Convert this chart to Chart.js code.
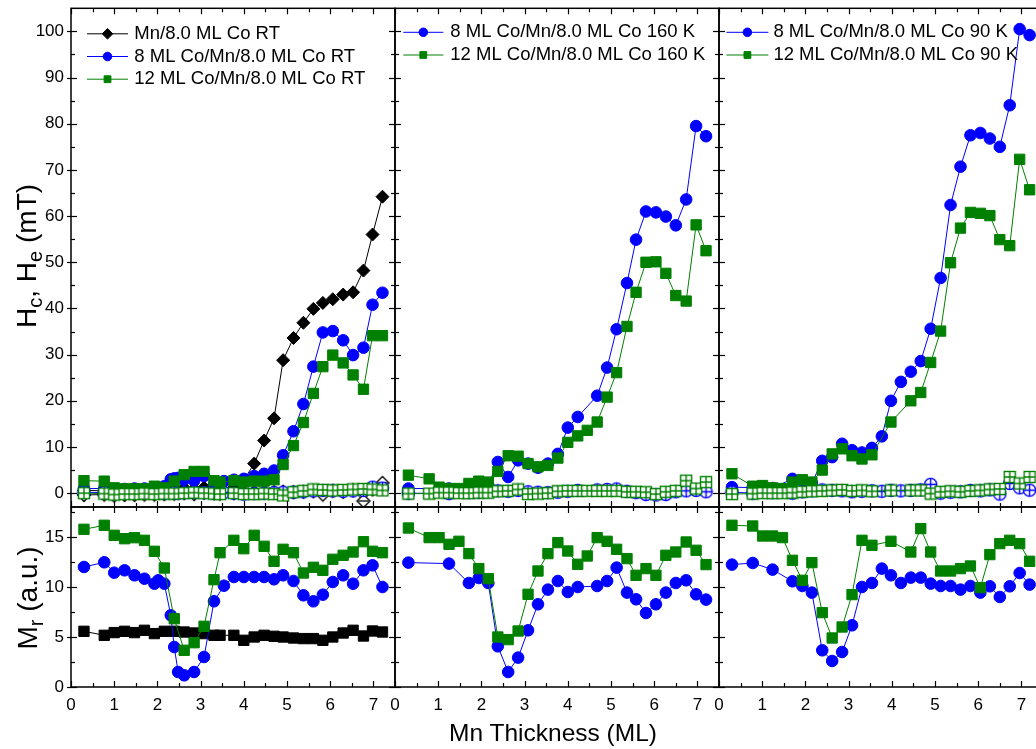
<!DOCTYPE html>
<html>
<head>
<meta charset="utf-8">
<title>Coercivity, exchange bias and remanence vs Mn thickness</title>
<script src="https://cdn.jsdelivr.net/npm/chart.js@4.4.1/dist/chart.umd.min.js"></script>
<style>
  html, body { margin: 0; padding: 0; background: #fff; overflow: hidden; }
  #fig { position: relative; width: 1060px; height: 749px; font-family: "Liberation Sans", Arial, Helvetica, sans-serif; color: #000; }
  #fig canvas { position: absolute; }
  .vtitle { position: absolute; transform: translate(-50%, -50%) rotate(-90deg); white-space: nowrap; font-size: 28px; line-height: 1; }
  .vtitle sub { font-size: 0.72em; vertical-align: -0.32em; line-height: 0; }
  .xtitle { position: absolute; transform: translate(-50%, -50%); white-space: nowrap; font-size: 24.5px; line-height: 1; }
</style>
</head>
<body>
<div id="fig">
  <div class="vtitle" style="left:27px; top:256px;">H<sub>c</sub>, H<sub>e</sub> (mT)</div>
  <div class="vtitle" style="left:28px; top:598px;">M<sub>r</sub> (a.u.)</div>
  <div class="xtitle" style="left:553px; top:733px;">Mn Thickness (ML)</div>
</div>
<script>
// ---------- axis ticks ----------
const xMajorTicks = [0, 1, 2, 3, 4, 5, 6, 7];
const xMinorTicks = [0.5, 1.5, 2.5, 3.5, 4.5, 5.5, 6.5];
const hcMajorTicks = [0, 10, 20, 30, 40, 50, 60, 70, 80, 90, 100];
const hcMinorTicks = [5, 15, 25, 35, 45, 55, 65, 75, 85, 95];
const mrMajorTicks = [0, 5, 10, 15];
const mrMinorTicks = [2.5, 7.5, 12.5, 17.5];

// ---------- room temperature: Mn/8.0 ML Co ----------
const rtMnX  = [0.30, 0.77, 1.00, 1.24, 1.47, 1.70, 1.93, 2.16, 2.39, 2.62, 2.85, 3.08, 3.31, 3.45, 3.77, 4.00, 4.24, 4.47, 4.70, 4.91, 5.15, 5.38, 5.61, 5.83, 6.06, 6.30, 6.53, 6.77, 6.98, 7.21];
const rtMnHc = [0.6, 0.5, 0.6, 0.5, 0.6, 0.7, 0.8, 0.9, 1.0, 1.1, 1.0, 1.2, 1.6, 1.3, 1.2, 2.8, 6.4, 11.4, 16.2, 28.8, 33.6, 36.9, 39.9, 41.2, 42.0, 43.0, 43.5, 48.2, 56.0, 64.2];
const rtMnHe = [-0.4, -0.3, -0.5, -0.4, -0.4, -0.3, -0.3, -0.2, -0.1, 0.0, -0.2, 0.1, 0.0, -0.1, 0.0, 0.1, 0.2, 0.3, 0.2, 0.3, 0.2, 0.3, 0.4, -0.3, 0.5, 0.3, 0.6, -1.7, 0.8, 2.2];
const rtMnMrX = [0.30, 0.77, 1.00, 1.24, 1.47, 1.70, 1.93, 2.16, 2.39, 2.62, 2.85, 3.08, 3.31, 3.45, 3.77, 4.00, 4.24, 4.47, 4.70, 4.91, 5.15, 5.38, 5.61, 5.83, 6.06, 6.30, 6.53, 6.77, 6.98, 7.21];
const rtMnMr  = [5.57, 5.17, 5.44, 5.57, 5.44, 5.67, 5.34, 5.57, 5.57, 5.5, 5.4, 5.34, 5.17, 5.17, 5.17, 4.67, 5.0, 5.17, 5.07, 5.0, 4.9, 4.84, 4.84, 4.67, 5.0, 5.4, 5.67, 5.1, 5.6, 5.5];

// ---------- room temperature: 8 ML Co/Mn/8.0 ML Co ----------
const rtCo8X  = [0.30, 0.77, 1.00, 1.24, 1.47, 1.70, 1.93, 2.02, 2.16, 2.31, 2.39, 2.48, 2.62, 2.85, 3.08, 3.31, 3.54, 3.77, 4.00, 4.24, 4.47, 4.70, 4.91, 5.15, 5.38, 5.61, 5.83, 6.06, 6.30, 6.53, 6.77, 6.98, 7.21];
const rtCo8Hc = [1.0, 1.0, 0.9, 0.9, 1.0, 1.0, 1.2, 1.2, 1.5, 3.0, 3.2, 3.3, 2.9, 2.7, 3.7, 1.9, 2.6, 2.9, 3.1, 3.7, 4.2, 4.9, 8.2, 13.4, 19.3, 27.4, 34.8, 35.1, 33.1, 29.9, 31.5, 40.8, 43.4];
const rtCo8He = [0.2, 0.1, 0.0, 0.0, 0.1, 0.1, 0.0, 0.1, 0.0, 0.1, 0.1, 0.0, 0.1, 0.2, 0.1, 0.0, 0.1, 0.0, -0.2, -0.1, 0.0, 0.1, 0.2, 0.2, 0.3, 0.5, 0.6, 0.5, 0.4, 0.5, 0.6, 1.3, 1.1];
const rtCo8Mr = [12.0, 12.47, 11.43, 11.67, 11.17, 10.83, 10.33, 10.67, 10.33, 7.17, 4.0, 1.5, 1.17, 1.5, 3.0, 8.57, 10.13, 11.0, 11.0, 11.0, 11.0, 10.77, 11.17, 10.6, 9.17, 8.57, 9.23, 10.5, 11.17, 10.33, 11.67, 12.17, 10.0];

// ---------- room temperature: 12 ML Co/Mn/8.0 ML Co ----------
const rtCo12X  = [0.30, 0.77, 1.00, 1.24, 1.47, 1.70, 1.93, 2.16, 2.39, 2.62, 2.85, 3.08, 3.31, 3.45, 3.77, 4.00, 4.24, 4.47, 4.70, 4.91, 5.15, 5.38, 5.61, 5.83, 6.06, 6.30, 6.53, 6.77, 6.98, 7.21];
const rtCo12Hc = [2.7, 2.6, 1.15, 0.93, 0.93, 0.93, 1.5, 1.15, 2.6, 4.0, 4.7, 4.7, 2.7, 2.4, 2.7, 2.4, 2.6, 2.6, 2.9, 6.2, 10.3, 15.3, 21.6, 27.4, 29.9, 28.2, 25.6, 22.5, 34.1, 34.1];
const rtCo12He = [0.0, -0.1, -0.3, -0.2, -0.2, -0.1, -0.2, -0.1, -0.1, 0.0, 0.1, 0.0, -0.1, -0.2, 0.0, -0.2, -0.2, -0.1, -0.2, -0.5, 0.2, 0.5, 0.8, 0.7, 0.6, 0.7, 0.8, 0.9, 0.8, 0.6];
const rtCo12Mr = [15.77, 16.17, 15.17, 14.83, 14.93, 14.67, 13.57, 11.9, 6.83, 3.67, 4.43, 6.07, 10.73, 13.43, 14.67, 13.83, 15.17, 14.07, 12.57, 13.77, 13.43, 11.4, 11.97, 11.67, 12.77, 13.17, 13.5, 14.53, 13.57, 13.43];

// ---------- 160 K: 8 ML Co/Mn/8.0 ML Co ----------
const k160Co8X  = [0.31, 1.25, 1.71, 1.94, 2.16, 2.38, 2.62, 2.85, 3.08, 3.31, 3.54, 3.77, 4.00, 4.23, 4.68, 4.91, 5.13, 5.37, 5.58, 5.81, 6.04, 6.27, 6.50, 6.74, 6.97, 7.20];
const k160Co8Hc = [1.0, 1.0, 1.6, 1.8, 1.65, 6.75, 3.5, 7.1, 6.4, 5.5, 6.4, 8.5, 14.2, 16.5, 21.1, 27.2, 35.5, 45.5, 54.9, 61.0, 60.8, 59.9, 58.0, 63.6, 79.5, 77.3];
const k160Co8He = [0.0, -0.1, 0.1, 0.2, 0.3, 0.5, 0.4, 0.6, 0.3, 0.2, 0.1, 0.2, 0.4, 0.6, 0.7, 0.8, 0.9, 0.4, 0.1, -0.3, -0.4, -0.3, 0.3, 0.5, 0.6, 0.3];
const k160Co8Mr = [12.44, 12.34, 10.4, 10.9, 10.4, 4.07, 1.5, 2.94, 5.67, 8.27, 9.74, 10.6, 9.5, 10.0, 10.1, 10.6, 11.94, 9.44, 8.77, 7.4, 8.27, 9.44, 10.4, 10.67, 9.27, 8.74];

// ---------- 160 K: 12 ML Co/Mn/8.0 ML Co ----------
const k160Co12X  = [0.31, 0.79, 1.02, 1.25, 1.48, 1.71, 1.94, 2.16, 2.38, 2.62, 2.85, 3.08, 3.31, 3.54, 3.77, 4.00, 4.23, 4.45, 4.68, 4.91, 5.13, 5.37, 5.58, 5.81, 6.04, 6.27, 6.50, 6.74, 6.97, 7.20];
const k160Co12Hc = [3.9, 3.1, 1.3, 1.0, 1.0, 2.1, 2.6, 2.4, 4.7, 8.1, 8.0, 6.4, 5.7, 6.0, 7.6, 11.0, 12.4, 13.6, 15.4, 20.8, 26.1, 36.1, 43.5, 50.0, 50.1, 47.6, 42.8, 41.6, 58.1, 52.5];
const k160Co12He = [-0.1, -0.1, 0.1, 0.1, 0.0, 0.0, 0.1, 0.1, 0.4, 0.5, 0.8, -0.2, -0.1, 0.0, 0.4, 0.5, 0.5, 0.5, 0.5, 0.5, 0.5, 0.3, 0.3, 0.2, -0.2, 0.3, 0.5, 2.7, 1.0, 2.4];
const k160Co12Mr = [15.9, 14.94, 14.94, 14.27, 14.57, 13.34, 11.84, 10.84, 5.0, 4.74, 5.6, 9.27, 11.6, 13.34, 14.44, 13.6, 12.27, 13.1, 14.94, 14.57, 13.77, 12.84, 11.17, 11.84, 11.17, 13.17, 13.5, 14.5, 13.67, 12.24];

// ---------- 90 K: 8 ML Co/Mn/8.0 ML Co ----------
const k90Co8X  = [0.30, 0.78, 1.24, 1.70, 1.93, 2.15, 2.39, 2.62, 2.85, 3.08, 3.31, 3.54, 3.77, 3.98, 4.21, 4.44, 4.67, 4.90, 5.13, 5.36, 5.59, 5.82, 6.05, 6.27, 6.50, 6.73, 6.96, 7.19];
const k90Co8Hc = [1.3, 1.2, 1.1, 3.1, 2.7, 2.2, 7.0, 7.8, 10.7, 9.3, 8.8, 9.8, 12.3, 20.0, 24.1, 26.3, 28.6, 35.6, 46.6, 62.4, 70.7, 77.5, 78.0, 76.8, 75.0, 84.0, 100.5, 99.2];
const k90Co8He = [0.2, 0.0, 0.1, 0.0, 0.3, 0.5, 0.7, 0.6, 0.5, 0.3, 0.4, 0.5, 0.4, 0.6, 0.5, 0.6, 0.7, 1.9, 0.0, 0.2, 0.3, 0.6, 0.5, 0.7, -0.2, 2.1, 1.15, 0.65];
const k90Co8Mr = [12.24, 12.4, 11.74, 10.57, 10.1, 9.44, 3.67, 2.6, 3.5, 6.17, 10.0, 10.4, 11.84, 11.17, 10.4, 10.94, 10.94, 10.34, 10.1, 10.1, 9.74, 10.1, 9.44, 10.07, 9.0, 10.07, 11.4, 10.24];

// ---------- 90 K: 12 ML Co/Mn/8.0 ML Co ----------
const k90Co12X  = [0.30, 0.78, 1.01, 1.24, 1.47, 1.70, 1.93, 2.15, 2.39, 2.62, 2.85, 3.08, 3.31, 3.54, 3.98, 4.44, 4.67, 4.90, 5.13, 5.36, 5.59, 5.82, 6.05, 6.27, 6.50, 6.73, 6.96, 7.19];
const k90Co12Hc = [4.2, 1.5, 1.65, 1.15, 1.0, 2.4, 2.9, 2.4, 5.0, 8.5, 9.6, 8.1, 7.4, 8.3, 15.4, 20.0, 21.8, 28.3, 35.1, 49.9, 57.4, 60.8, 60.6, 60.1, 54.9, 53.6, 72.3, 65.7];
const k90Co12He = [-0.2, -0.1, 0.0, 0.0, 0.0, 0.1, 0.3, 0.4, 0.5, 0.6, 0.7, 0.5, 0.6, 0.4, 0.6, 0.6, 0.6, -0.1, 0.3, 0.4, 0.3, 0.5, 0.6, 0.8, 0.9, 3.5, 2.1, 3.5];
const k90Co12Mr = [16.17, 16.1, 15.1, 15.1, 14.94, 12.67, 10.67, 12.44, 7.44, 4.9, 6.0, 9.24, 14.67, 14.17, 14.57, 13.5, 15.84, 13.5, 11.6, 11.6, 11.84, 12.1, 9.94, 13.24, 14.34, 14.67, 14.34, 12.57];

// ---------- styling ----------
const FONT = '"Liberation Sans", Arial, Helvetica, sans-serif';
const BLUE = '#0000ff', GREEN = '#008000', BLACK = '#000000';

// open markers with a cross inside (exchange-bias data)
function crossedCircle(color) {
  const c = document.createElement('canvas'); c.width = c.height = 15;
  const g = c.getContext('2d');
  g.fillStyle = '#fff'; g.strokeStyle = color; g.lineWidth = 1.4;
  g.beginPath(); g.arc(7.5, 7.5, 6.1, 0, Math.PI * 2); g.fill(); g.stroke();
  g.beginPath(); g.moveTo(7.5, 1.4); g.lineTo(7.5, 13.6); g.moveTo(1.4, 7.5); g.lineTo(13.6, 7.5); g.stroke();
  return c;
}
function crossedSquare(color) {
  const c = document.createElement('canvas'); c.width = c.height = 14;
  const g = c.getContext('2d');
  g.fillStyle = '#fff'; g.strokeStyle = color; g.lineWidth = 1.4;
  g.fillRect(1.5, 1.5, 11, 11); g.strokeRect(1.5, 1.5, 11, 11);
  g.beginPath(); g.moveTo(7, 1.5); g.lineTo(7, 12.5); g.moveTo(1.5, 7); g.lineTo(12.5, 7); g.stroke();
  return c;
}
function openDiamond(color) {
  const c = document.createElement('canvas'); c.width = c.height = 16;
  const g = c.getContext('2d');
  g.fillStyle = '#fff'; g.strokeStyle = color; g.lineWidth = 1.3;
  g.beginPath(); g.moveTo(8, 1.5); g.lineTo(14.5, 8); g.lineTo(8, 14.5); g.lineTo(1.5, 8); g.closePath(); g.fill(); g.stroke();
  g.beginPath(); g.moveTo(3, 8); g.lineTo(13, 8); g.stroke();
  return c;
}
const OPEN_BLUE = crossedCircle(BLUE);
const OPEN_GREEN = crossedSquare(GREEN);
const OPEN_BLACK = openDiamond(BLACK);

const pts = (xs, ys) => xs.map((x, i) => ({ x, y: ys[i] }));

const MARK = {
  black: { pointStyle: 'rectRot', radius: 6.5, legendRadius: 5.3, color: BLACK, open: OPEN_BLACK },
  blue:  { pointStyle: 'circle',  radius: 5.8, legendRadius: 4.3, color: BLUE,  open: OPEN_BLUE },
  green: { pointStyle: 'rect',    radius: 7.3, legendRadius: 4.8, color: GREEN, open: OPEN_GREEN }
};

function filledSet(label, kind, xs, ys, order) {
  const m = MARK[kind];
  return {
    label, data: pts(xs, ys), showLine: true, order,
    borderColor: m.color, backgroundColor: m.color, borderWidth: 1,
    pointStyle: m.pointStyle, pointRadius: m.radius, pointBorderWidth: 1,
    pointBackgroundColor: m.color, pointBorderColor: m.color,
    legendRadius: m.legendRadius, tension: 0
  };
}
function openSet(label, kind, xs, ys, order) {
  const m = MARK[kind];
  return {
    label, data: pts(xs, ys), showLine: true, order,
    borderColor: m.color, backgroundColor: '#fff', borderWidth: 1,
    pointStyle: m.open, pointRadius: 6, tension: 0
  };
}

// ---------- frame, mirrored tick marks and in-plot legend ----------
const framePlugin = {
  id: 'frame',
  afterDraw(chart, args, o) {
    const { ctx, chartArea: { left, right, top, bottom }, scales: { x, y } } = chart;
    const MAJ = 6, MIN = 4;
    ctx.save();
    ctx.strokeStyle = '#000';
    ctx.lineWidth = 1.2;
    const seg = (x1, y1, x2, y2) => { ctx.beginPath(); ctx.moveTo(x1, y1); ctx.lineTo(x2, y2); ctx.stroke(); };
    o.xMajor.forEach(v => { const p = Math.round(x.getPixelForValue(v)) + 0.5; seg(p, bottom, p, bottom - MAJ); seg(p, top, p, top + MAJ); });
    o.xMinor.forEach(v => { const p = Math.round(x.getPixelForValue(v)) + 0.5; seg(p, bottom, p, bottom - MIN); seg(p, top, p, top + MIN); });
    o.yMajor.forEach(v => { const p = Math.round(y.getPixelForValue(v)) + 0.5; seg(left, p, left + MAJ, p); seg(right, p, right - MAJ, p); });
    o.yMinor.forEach(v => { const p = Math.round(y.getPixelForValue(v)) + 0.5; seg(left, p, left + MIN, p); seg(right, p, right - MIN, p); });
    if (o.outerLeft) {
      o.yMajor.forEach(v => { const p = Math.round(y.getPixelForValue(v)) + 0.5; seg(left, p, left - 4, p); });
    }
    ctx.lineWidth = 1.5;
    ctx.strokeRect(left, top, right - left, bottom - top);
    ctx.restore();
  }
};

const legendPlugin = {
  id: 'panelLegend',
  afterDraw(chart, args, o) {
    if (!o.items || !o.items.length) return;
    const { ctx, chartArea } = chart;
    ctx.save();
    ctx.font = '18.5px ' + FONT;
    ctx.textBaseline = 'middle';
    ctx.textAlign = 'left';
    o.items.forEach((di, i) => {
      const ds = chart.data.datasets[di];
      const yy = chartArea.top + o.top + i * o.step;
      const x0 = chartArea.left + o.left, x1 = x0 + o.lineLen;
      ctx.strokeStyle = ds.borderColor; ctx.lineWidth = 1;
      ctx.beginPath(); ctx.moveTo(x0, yy); ctx.lineTo(x1, yy); ctx.stroke();
      ctx.fillStyle = ds.backgroundColor;
      Chart.helpers.drawPoint(ctx, { pointStyle: ds.pointStyle, radius: ds.legendRadius, borderWidth: 1, rotation: 0 }, (x0 + x1) / 2, yy);
      ctx.fillStyle = '#000';
      ctx.fillText(ds.label, x1 + o.gap, yy);
    });
    ctx.restore();
  }
};

// ---------- panel grid ----------
const COL_LEFT = [71, 395, 719];
const COL_W = 324;
const ROWS = [{ top: 5, h: 502 }, { top: 507, h: 180 }];
const X_RANGE = [0, 7.5];
const HC_RANGE = [-3, 105];
const MR_RANGE = [0, 18];

const fig = document.getElementById('fig');

function panel(col, row, datasets, legend) {
  const padL = col === 0 ? 71 : 12, padR = 12;
  const padT = row === 0 ? 5 : 12, padB = row === 1 ? 62 : 12;
  const area = ROWS[row];
  const cv = document.createElement('canvas');
  const W = COL_W + padL + padR, H = area.h + padT + padB;
  cv.width = W; cv.height = H;
  cv.style.width = W + 'px'; cv.style.height = H + 'px';
  cv.style.left = (COL_LEFT[col] - padL) + 'px';
  cv.style.top = (area.top - padT) + 'px';
  fig.insertBefore(cv, fig.firstChild);

  const yMajor = row === 0 ? hcMajorTicks : mrMajorTicks;
  const yMinor = row === 0 ? hcMinorTicks : mrMinorTicks;
  const yRange = row === 0 ? HC_RANGE : MR_RANGE;
  const tickFont = { family: FONT, size: 17 };

  new Chart(cv, {
    type: 'scatter',
    data: { datasets },
    options: {
      responsive: false, animation: false, devicePixelRatio: 1,
      events: [],
      layout: { padding: { left: col === 0 ? 0 : padL, right: padR, top: padT, bottom: row === 1 ? 0 : padB } },
      plugins: {
        legend: { display: false }, tooltip: { enabled: false },
        frame: { xMajor: xMajorTicks, xMinor: xMinorTicks, yMajor, yMinor, outerLeft: col === 0 },
        panelLegend: legend || {}
      },
      scales: {
        x: {
          type: 'linear', position: 'bottom', min: X_RANGE[0], max: X_RANGE[1],
          display: row === 1,
          grid: { display: false, drawTicks: false }, border: { display: false },
          afterBuildTicks: s => { s.ticks = xMajorTicks.map(v => ({ value: v })); },
          afterFit: s => { s.height = row === 1 ? padB : 0; s.paddingLeft = 0; s.paddingRight = 0; },
          ticks: { font: tickFont, color: '#000', padding: 8, autoSkip: false, maxRotation: 0, callback: v => String(v) }
        },
        y: {
          type: 'linear', position: 'left', min: yRange[0], max: yRange[1],
          display: col === 0,
          grid: { display: false, drawTicks: false }, border: { display: false },
          afterBuildTicks: s => { s.ticks = yMajor.map(v => ({ value: v })); },
          afterFit: s => { s.width = col === 0 ? padL : 0; s.paddingTop = 0; s.paddingBottom = 0; },
          ticks: { font: tickFont, color: '#000', padding: 7, autoSkip: false, callback: v => String(v) }
        }
      }
    },
    plugins: [framePlugin, legendPlugin]
  });
}

// coercive / exchange fields
panel(0, 0, [
  filledSet('Mn/8.0 ML Co RT', 'black', rtMnX, rtMnHc, 6),
  filledSet('8 ML Co/Mn/8.0 ML Co RT', 'blue', rtCo8X, rtCo8Hc, 4),
  filledSet('12 ML Co/Mn/8.0 ML Co RT', 'green', rtCo12X, rtCo12Hc, 2),
  openSet('Mn/8.0 ML Co RT, He', 'black', rtMnX, rtMnHe, 5),
  openSet('8 ML Co/Mn/8.0 ML Co RT, He', 'blue', rtCo8X, rtCo8He, 3),
  openSet('12 ML Co/Mn/8.0 ML Co RT, He', 'green', rtCo12X, rtCo12He, 1)
], { items: [0, 1, 2], left: 16, top: 25.5, step: 22.7, lineLen: 41, gap: 6.3 });

panel(1, 0, [
  filledSet('8 ML Co/Mn/8.0 ML Co 160 K', 'blue', k160Co8X, k160Co8Hc, 4),
  filledSet('12 ML Co/Mn/8.0 ML Co 160 K', 'green', k160Co12X, k160Co12Hc, 2),
  openSet('8 ML Co/Mn/8.0 ML Co 160 K, He', 'blue', k160Co8X, k160Co8He, 3),
  openSet('12 ML Co/Mn/8.0 ML Co 160 K, He', 'green', k160Co12X, k160Co12He, 1)
], { items: [0, 1], left: 8.3, top: 24, step: 22.7, lineLen: 40, gap: 7 });

panel(2, 0, [
  filledSet('8 ML Co/Mn/8.0 ML Co 90 K', 'blue', k90Co8X, k90Co8Hc, 4),
  filledSet('12 ML Co/Mn/8.0 ML Co 90 K', 'green', k90Co12X, k90Co12Hc, 2),
  openSet('8 ML Co/Mn/8.0 ML Co 90 K, He', 'blue', k90Co8X, k90Co8He, 3),
  openSet('12 ML Co/Mn/8.0 ML Co 90 K, He', 'green', k90Co12X, k90Co12He, 1)
], { items: [0, 1], left: 7.4, top: 24, step: 22.7, lineLen: 42, gap: 5 });

// remanent magnetisation
panel(0, 1, [
  filledSet('Mn/8.0 ML Co RT', 'black', rtMnMrX, rtMnMr, 3),
  filledSet('8 ML Co/Mn/8.0 ML Co RT', 'blue', rtCo8X, rtCo8Mr, 2),
  filledSet('12 ML Co/Mn/8.0 ML Co RT', 'green', rtCo12X, rtCo12Mr, 1)
].map((d, i) => i === 0 ? Object.assign(d, { pointStyle: 'rect', pointRadius: 7.3 }) : d));

panel(1, 1, [
  filledSet('8 ML Co/Mn/8.0 ML Co 160 K', 'blue', k160Co8X, k160Co8Mr, 2),
  filledSet('12 ML Co/Mn/8.0 ML Co 160 K', 'green', k160Co12X, k160Co12Mr, 1)
]);

panel(2, 1, [
  filledSet('8 ML Co/Mn/8.0 ML Co 90 K', 'blue', k90Co8X, k90Co8Mr, 2),
  filledSet('12 ML Co/Mn/8.0 ML Co 90 K', 'green', k90Co12X, k90Co12Mr, 1)
]);
</script>
</body>
</html>
